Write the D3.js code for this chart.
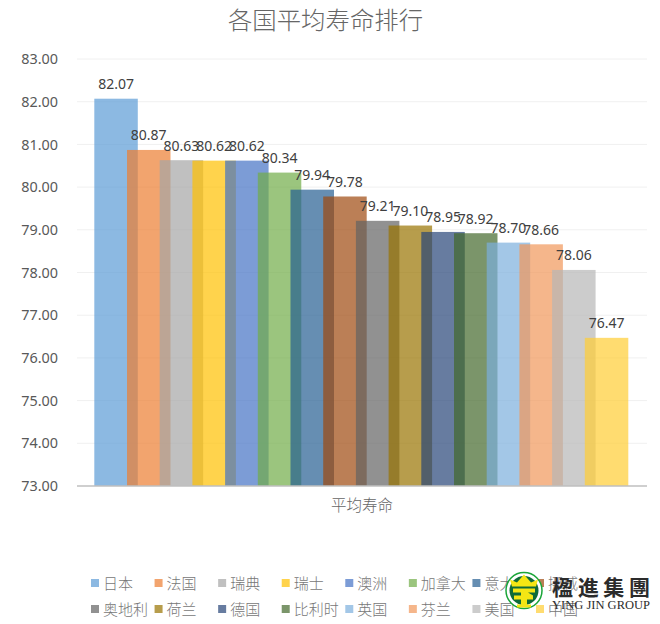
<!DOCTYPE html>
<html>
<head>
<meta charset="utf-8">
<script src="https://cdn.jsdelivr.net/npm/d3@7"></script>
<style>
  html, body { margin: 0; padding: 0; background: #fff; }
  svg { display: block; }
  text { font-family: "Noto Sans CJK SC", "Noto Sans", sans-serif; }
  .num { font-family: "Noto Sans", sans-serif; }
  .latin { font-family: "Liberation Serif", serif; }
</style>
</head>
<body>
<svg width="660" height="624"></svg>
<script>
const COUNTRIES = ['日本', '法国', '瑞典', '瑞士', '澳洲', '加拿大', '意大利', '挪威',
                   '奥地利', '荷兰', '德国', '比利时', '英国', '芬兰', '美国', '中国'];
const LIFE_SPAN = [82.07, 80.87, 80.63, 80.62, 80.62, 80.34, 79.94, 79.78,
                   79.21, 79.10, 78.95, 78.92, 78.70, 78.66, 78.06, 76.47];
const COLORS = ['#5b9bd5', '#ed7d31', '#a5a5a5', '#ffc000', '#4472c4', '#70ad47', '#255e91', '#9e480e',
                '#636363', '#997300', '#264478', '#43682b', '#7cafdd', '#f1975a', '#b7b7b7', '#ffcd33'];
const Y_TICKS = [73, 74, 75, 76, 77, 78, 79, 80, 81, 82, 83];

const svg = d3.select('svg');

/* title */
svg.append('text')
    .attr('x', 325.5).attr('y', 29)
    .attr('text-anchor', 'middle')
    .attr('fill', '#666')
    .attr('font-size', 24.4)
    .attr('font-weight', 300)
    .text('各国平均寿命排行');

const yScale = d3.scaleLinear()
    .domain([73, 83])
    .range([486, 59]);

// one band per bar, the bars are wider than the band so they overlap
const xScale = d3.scaleBand()
    .domain(COUNTRIES)
    .range([94.3, 617.5]);
const barWidth = xScale.bandwidth() * 1.33;

/* gridlines and y axis */
svg.append('g')
    .selectAll('line')
    .data(Y_TICKS.slice(1))
    .enter()
    .append('line')
    .attr('x1', 77).attr('x2', 647)
    .attr('y1', d => yScale(d)).attr('y2', d => yScale(d))
    .attr('stroke', '#f0f0f0')
    .attr('stroke-width', 1);

const yAxis = svg.append('g')
    .attr('transform', 'translate(63,0)')
    .call(d3.axisLeft(yScale).tickValues(Y_TICKS).tickFormat(d3.format('.2f')).tickSize(0).tickPadding(5));
yAxis.select('.domain').remove();
yAxis.selectAll('text')
    .attr('class', 'num')
    .attr('font-size', 14.4)
    .attr('fill', '#595959');

/* bars */
svg.append('g')
    .selectAll('rect')
    .data(COUNTRIES)
    .enter()
    .append('rect')
    .attr('x', d => xScale(d))
    .attr('y', (d, i) => yScale(LIFE_SPAN[i]))
    .attr('width', barWidth)
    .attr('height', (d, i) => yScale(73) - yScale(LIFE_SPAN[i]))
    .attr('fill', (d, i) => COLORS[i])
    .attr('fill-opacity', 0.7);

/* baseline */
svg.append('line')
    .attr('x1', 77).attr('x2', 647)
    .attr('y1', yScale(73)).attr('y2', yScale(73))
    .attr('stroke', '#bfbfbf')
    .attr('stroke-width', 1.5);

/* value labels */
svg.append('g')
    .selectAll('text')
    .data(COUNTRIES)
    .enter()
    .append('text')
    .attr('class', 'num')
    .attr('x', d => xScale(d) + barWidth / 2)
    .attr('y', (d, i) => yScale(LIFE_SPAN[i]) - 9.5)
    .attr('text-anchor', 'middle')
    .attr('font-size', 14)
    .attr('fill', '#404040')
    .text((d, i) => LIFE_SPAN[i].toFixed(2));

/* category label */
svg.append('text')
    .attr('x', 362).attr('y', 511)
    .attr('text-anchor', 'middle')
    .attr('font-size', 15.5)
    .attr('font-weight', 300)
    .attr('fill', '#666')
    .text('平均寿命');

/* legend, two rows of eight */
const legendX = d3.scalePoint()
    .domain(d3.range(8))
    .range([91, 536]);
const legendY = d3.scalePoint()
    .domain([0, 1])
    .range([583, 609]);

const legend = svg.append('g')
    .selectAll('g')
    .data(COUNTRIES)
    .enter()
    .append('g')
    .attr('transform', (d, i) => `translate(${legendX(i % 8)},${legendY(Math.floor(i / 8))})`);
legend.append('rect')
    .attr('x', 0).attr('y', -4)
    .attr('width', 8).attr('height', 8)
    .attr('fill', (d, i) => COLORS[i])
    .attr('fill-opacity', 0.7);
legend.append('text')
    .attr('x', 12)
    .attr('y', 5.5)
    .attr('font-size', 15)
    .attr('font-weight', 300)
    .attr('fill', '#777')
    .text(d => d);

/* company logo sits on top of the legend */
const logo = svg.append('g').attr('transform', 'translate(524,590.5)');
logo.append('circle').attr('r', 18).attr('fill', '#fff').attr('stroke', '#1aa538').attr('stroke-width', 1.5);
logo.append('circle').attr('r', 14.5).attr('fill', '#0f6b38');
// crown
logo.append('path')
    .attr('d', 'M-12,-4 L-14,-11 L-7,-8 L0,-16 L7,-8 L14,-11 L12,-4 Z')
    .attr('fill', '#f4e614');
// S and Y monogram
logo.append('path')
    .attr('d', 'M-11,-2 H11 V2 H4 L9,5 V9 H3 V14 H7 V17 H-7 V14 H-3 V9 H-10 V5 H-3 V2 H-11 Z')
    .attr('fill', '#f4e614');

svg.append('text')
    .attr('x', 552).attr('y', 595)
    .attr('font-size', 21)
    .attr('font-weight', 700)
    .attr('textLength', 98)
    .attr('fill', '#2b2b2b')
    .text('楹進集團');
svg.append('text')
    .attr('class', 'latin')
    .attr('x', 552).attr('y', 609)
    .attr('font-size', 12.5)
    .attr('textLength', 98)
    .attr('fill', '#2b2b2b')
    .text('YING JIN GROUP');
</script>
</body>
</html>
